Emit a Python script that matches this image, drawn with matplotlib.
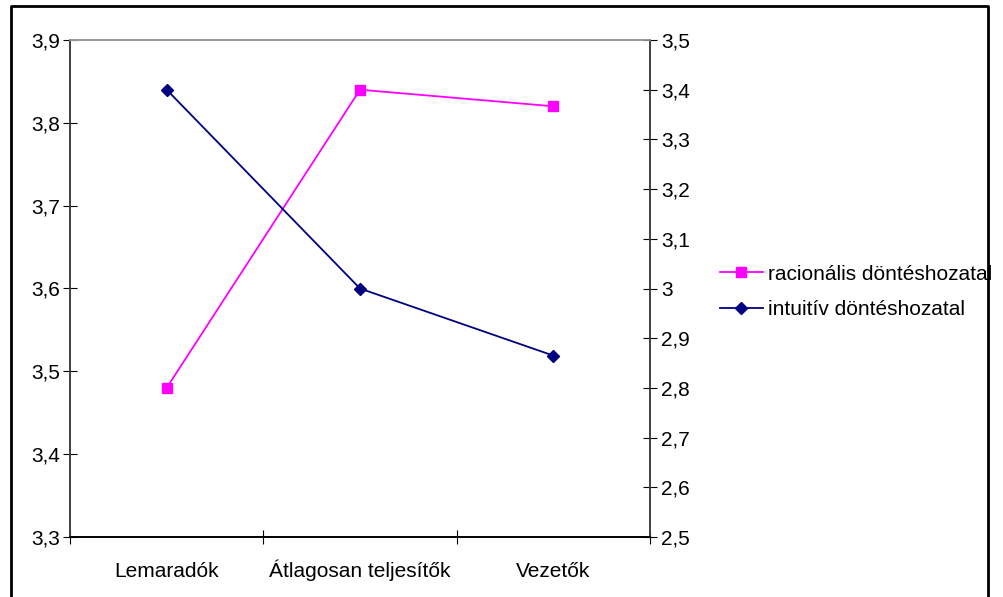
import numpy as np
import matplotlib.pyplot as plt
from matplotlib.lines import Line2D
from matplotlib.ticker import FixedLocator, FuncFormatter

plt.rcParams['font.family'] = ['Liberation Sans', 'DejaVu Sans']

# Daten
kategoriak = ['Lemaradók', 'Átlagosan teljesítők', 'Vezetők']
racionalis = [3.48, 3.84, 3.82]      # bal tengely
intuitiv = [3.40, 3.00, 2.865]       # jobb tengely
bal_ticks = [3.3, 3.4, 3.5, 3.6, 3.7, 3.8, 3.9]
jobb_ticks = [2.5, 2.6, 2.7, 2.8, 2.9, 3.0, 3.1, 3.2, 3.3, 3.4, 3.5]

W, H = 1004, 597
fs = 15
fig = plt.figure(figsize=(W / 100, H / 100), dpi=100)
ax = fig.add_axes([70 / W, (H - 537) / H, 580 / W, 497 / H])
ax2 = ax.twinx()

x = np.arange(len(kategoriak))
l1, = ax.plot(x, racionalis, color='#ff00ff', lw=1.3, marker='s', ms=7,
              label='racionális döntéshozatal')
l2, = ax2.plot(x, intuitiv, color='#000080', lw=1.3, marker='D', ms=6,
               label='intuitív döntéshozatal')

fmt = FuncFormatter(lambda v, p: ('%g' % round(v, 2)).replace('.', ','))
ax.set_xlim(-0.5, 2.5)
ax.set_ylim(3.3, 3.9)
ax.set_yticks(bal_ticks)
ax.yaxis.set_major_formatter(fmt)
ax2.set_ylim(2.5, 3.5)
ax2.set_yticks(jobb_ticks)
ax2.yaxis.set_major_formatter(fmt)

ax.set_xticks(x)
ax.set_xticklabels(kategoriak)
for t in ax.get_xticklabels():
    t.set_va('baseline')
ax.xaxis.set_minor_locator(FixedLocator([-0.5, 0.5, 1.5, 2.5]))
ax.tick_params(axis='x', which='major', length=0, pad=29, labelsize=fs)
ax.tick_params(axis='x', which='minor', direction='inout', length=10, width=0.8)
ax.tick_params(axis='y', direction='inout', length=10, width=0.8, labelsize=fs, pad=2)
ax2.tick_params(axis='y', direction='inout', length=10, width=0.8, labelsize=fs, pad=3)

for a in (ax, ax2):
    a.spines['top'].set_color('#999999')
    a.spines['left'].set_color('#404040')
    a.spines['right'].set_color('#404040')
    a.spines['bottom'].set_color('black')
    for s in a.spines.values():
        s.set_linewidth(1.2)

fig.legend(handles=[l1, l2], loc='center left', bbox_to_anchor=(720 / W, 1 - 292 / H),
           frameon=False, fontsize=fs, handlelength=2.05, handletextpad=0.25,
           labelspacing=0.8, borderpad=0, borderaxespad=0)

# keret (alul nincs)
keret_x = [11, 11, 988, 988]
keret_y = [597, 6, 6, 597]
fig.add_artist(Line2D([v / W for v in keret_x], [1 - v / H for v in keret_y],
                      color='black', lw=2, transform=fig.transFigure))

fig.savefig('out.png', dpi=100)
